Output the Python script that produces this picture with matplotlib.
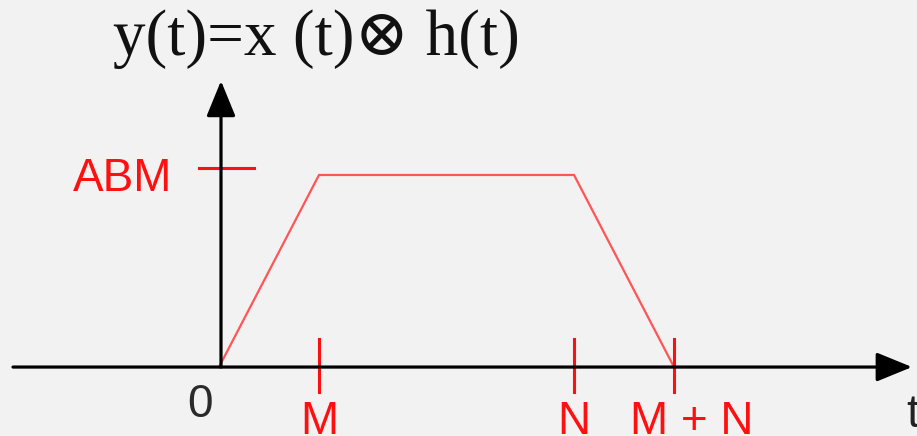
import matplotlib
matplotlib.use("Agg")
import matplotlib.pyplot as plt

# ---- data ----
M = 1.0
N = 3.55
ABM = 1.0
t_pts = [0.0, M, N, M + N]
y_pts = [0.0, ABM, ABM, 0.0]
tick_pos = [M, N, M + N]
tick_labels = ["M", "N", "M + N"]
title = "y(t)=x (t)\u2297 h(t)"

BG = "#f2f2f2"
RED = "#ff1010"

fig = plt.figure(figsize=(9.17, 4.36), dpi=100, facecolor=BG)
ax = fig.add_axes([0, 0, 1, 1])
ax.set_facecolor(BG)
ax.set_xlim(-2.19, 6.98)
ax.set_ylim(-0.359, 1.911)
ax.axis("off")

# axes arrows
arr = dict(arrowstyle="-|>,head_length=1.1,head_width=0.45", color="black",
           lw=2.3, shrinkA=0, shrinkB=0, mutation_scale=20)
ax.annotate("", xy=(6.93, 0), xytext=(-2.06, 0), arrowprops=arr)
ax.annotate("", xy=(0.02, 1.49), xytext=(0.02, 0), arrowprops=arr)

# trapezoid
ax.plot(t_pts, y_pts, color="#ff5555", lw=1.6, solid_joinstyle="miter")

# ticks on t-axis
for p, lab in zip(tick_pos, tick_labels):
    ax.plot([p, p], [-0.13, 0.146], color=RED, lw=2.2)
    ax.text(p + (0.18 if lab == "M + N" else 0.0), -0.349, lab, color=RED,
            fontsize=33, family="Liberation Sans", ha="center", va="baseline")

# ABM tick
ax.plot([-0.2, 0.35], [1.036, 1.036], color=RED, lw=2.2)
ax.text(-0.47, 0.917, "ABM", color=RED, fontsize=33, family="Liberation Sans",
        ha="right", va="baseline")

# origin and t labels
ax.text(-0.19, -0.26, "0", color="#2a2a2a", fontsize=33, family="Liberation Sans",
        ha="center", va="baseline")
ax.text(6.87, -0.135, "t", color="#222222", fontsize=33, family="Liberation Sans",
        ha="left", va="top")

# title
ax.text(-1.06, 1.625, title, fontsize=47, color="#111111",
        family=["Liberation Serif", "DejaVu Serif"], ha="left", va="baseline")

fig.savefig("out.png", dpi=100, facecolor=BG)
